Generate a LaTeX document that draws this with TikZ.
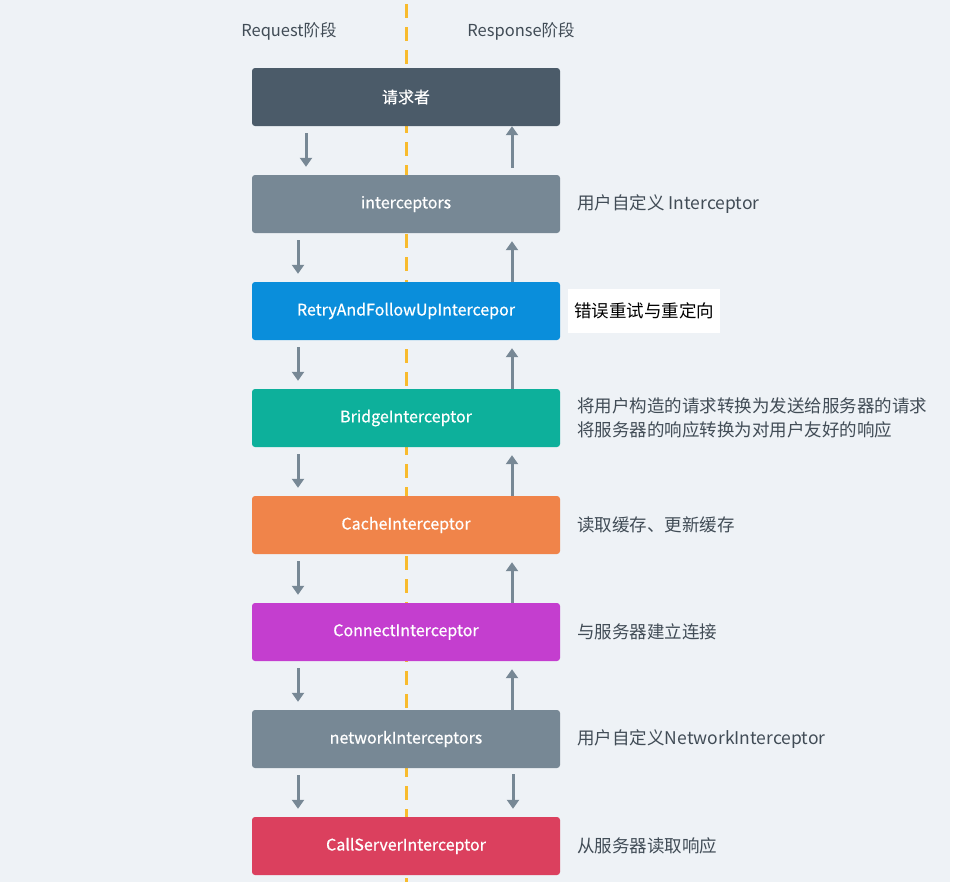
\documentclass[tikz,border=0pt]{standalone}
\usepackage{fontspec}
\setmainfont{Noto Sans CJK SC}
\newfontfamily\stagefont[FakeBold=0.6]{Noto Sans CJK SC}
\usepackage{tikz}
\usetikzlibrary{positioning, arrows.meta}
\definecolor{chain-bg}{HTML}{EEF2F6}
\definecolor{chain-dark}{HTML}{4B5B69}
\definecolor{chain-gray}{HTML}{778895}
\definecolor{chain-blue}{HTML}{0A8EDB}
\definecolor{chain-teal}{HTML}{0DB09B}
\definecolor{chain-orange}{HTML}{F0844A}
\definecolor{chain-purple}{HTML}{C43ECF}
\definecolor{chain-red}{HTML}{DB405E}
\definecolor{chain-line}{HTML}{778895}
\definecolor{chain-dash}{HTML}{F8BB2D}
\definecolor{chain-text}{HTML}{414C56}

\begin{document}
\begin{tikzpicture}[x=1pt, y=-1pt,
    stage/.style={rectangle, rounded corners=3pt, minimum width=308pt,
        minimum height=58pt, text=white, font=\stagefont\fontsize{16}{20}\selectfont},
    note/.style={anchor=west, inner sep=0pt, text=chain-text, align=left,
        font=\fontsize{17.5}{24}\selectfont},
    flow/.style={chain-line, line width=3pt, -{Triangle[width=12pt, length=9pt]}}]
        \fill[white] (0,0) rectangle (954,882);
        \fill[chain-bg] (0,0) rectangle (950,882);
        \draw[chain-dash, line width=3pt, dash pattern=on 14pt off 9pt] (406,4) -- (406,882);

        \node[text=chain-text, font=\fontsize{16.5}{20}\selectfont] (reqHead) at (289,31) {Request阶段};
        \node[text=chain-text, font=\fontsize{16.5}{20}\selectfont] (respHead) at (521,31) {Response阶段};

        \foreach \name/\col/\txt [count=\i from 0] in {caller/chain-dark/请求者,
                user/chain-gray/interceptors, retry/chain-blue/RetryAndFollowUpIntercepor,
                bridge/chain-teal/BridgeInterceptor, cache/chain-orange/CacheInterceptor,
                connect/chain-purple/ConnectInterceptor, network/chain-gray/networkInterceptors,
                server/chain-red/CallServerInterceptor} {
            \node[stage, fill=\col] (\name) at (406, 97+107*\i) {\txt};
        }

        % request side
        \draw[flow, shorten <=7pt, shorten >=8pt] ([xshift=-100pt]caller.south) -- ([xshift=-100pt]user.north);
        \foreach \a/\b in {user/retry, retry/bridge, bridge/cache, cache/connect, connect/network, network/server} {
            \draw[flow, shorten <=7pt, shorten >=8pt] ([xshift=-108pt]\a.south) -- ([xshift=-108pt]\b.north);
        }
        % response side
        \draw[flow, shorten <=7pt] ([xshift=106pt]user.north) -- ([xshift=106pt]caller.south);
        \foreach \a/\b in {user/retry, retry/bridge, bridge/cache, cache/connect, connect/network} {
            \draw[flow, shorten >=8pt] ([xshift=106pt]\b.north) -- ([xshift=106pt]\a.south);
        }
        \draw[flow, shorten <=6pt, shorten >=8pt] ([xshift=107pt]network.south) -- ([xshift=107pt]server.north);

        \node[note, right=17pt of user] (userNote) {用户自定义 Interceptor};
        \node[note, right=8pt of retry, fill=white, text=black, inner xsep=6pt, minimum height=44pt] (retryNote) {错误重试与重定向};
        \node[note, right=17pt of bridge] (bridgeNote) {将用户构造的请求转换为发送给服务器的请求\\将服务器的响应转换为对用户友好的响应};
        \node[note, right=17pt of cache] (cacheNote) {读取缓存、更新缓存};
        \node[note, right=17pt of connect] (connectNote) {与服务器建立连接};
        \node[note, right=17pt of network] (networkNote) {用户自定义NetworkInterceptor};
        \node[note, right=17pt of server] (serverNote) {从服务器读取响应};
    \end{tikzpicture}
\end{document}
